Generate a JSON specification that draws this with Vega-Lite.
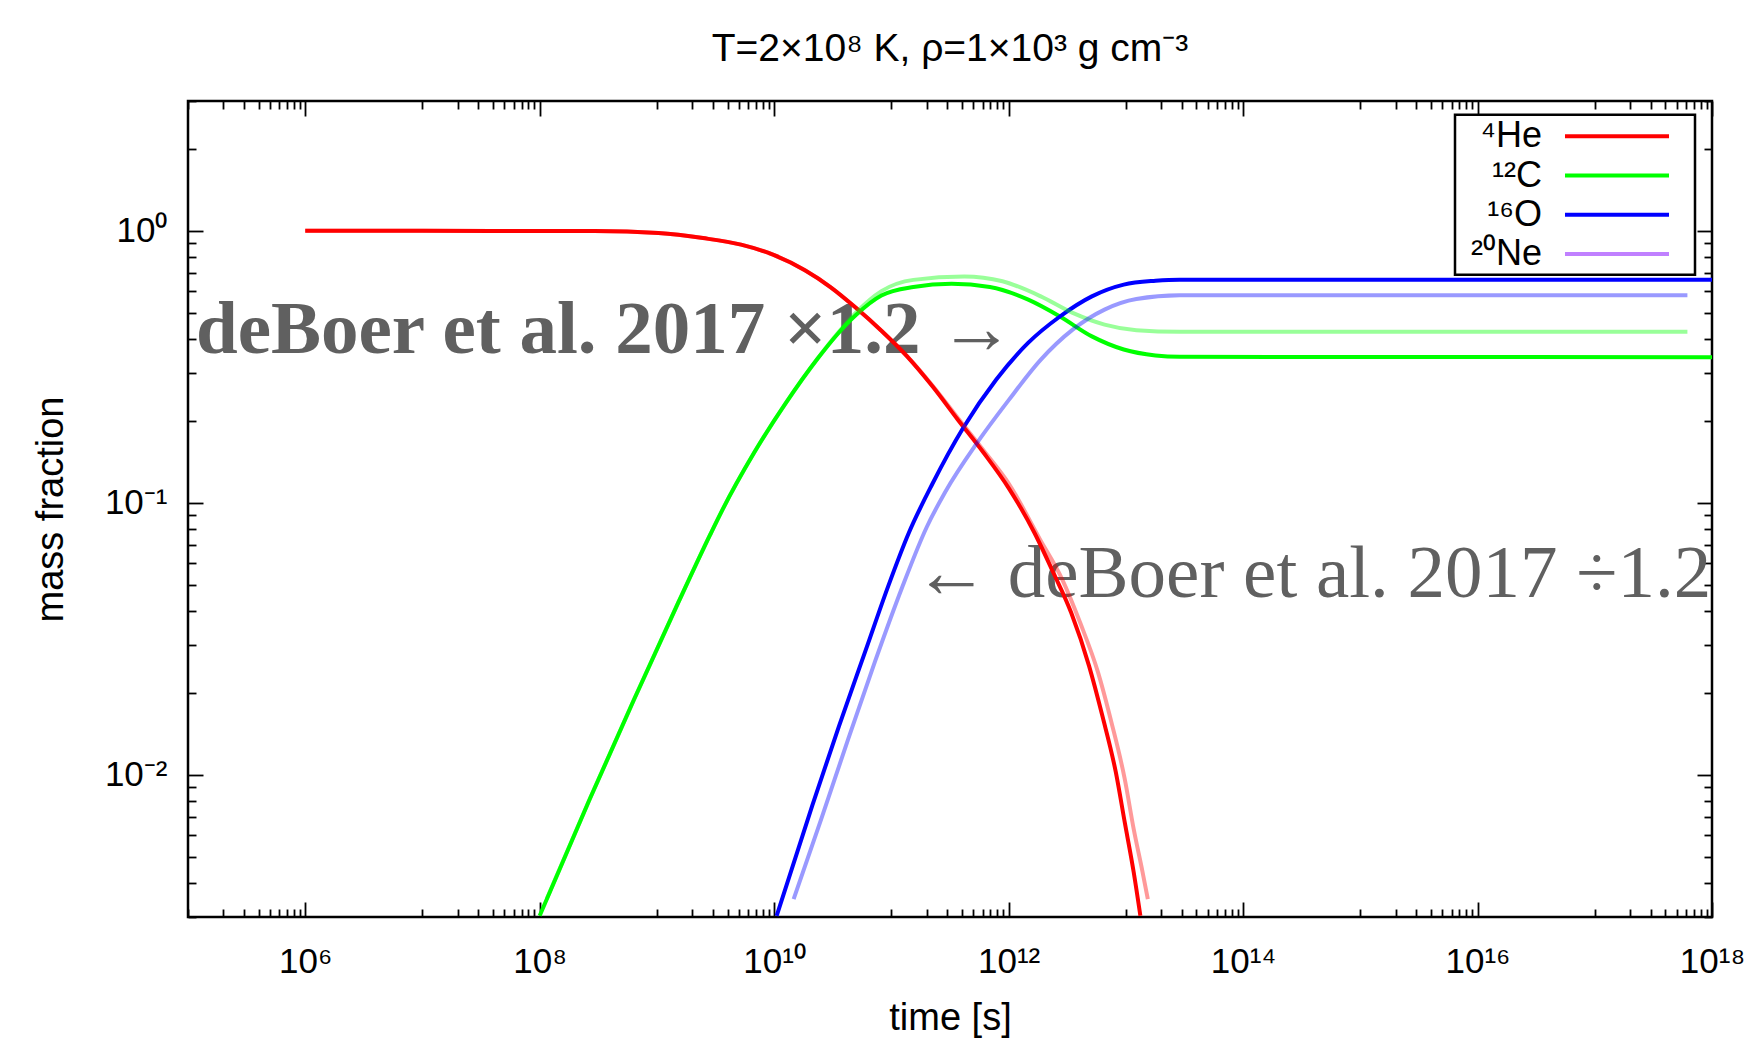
{
  "$schema": "https://vega.github.io/schema/vega-lite/v6.json",
  "width": 1524,
  "height": 816,
  "autosize": {"type": "none"},
  "padding": {"left": 188, "top": 101, "right": 45, "bottom": 125},
  "background": "white",
  "title": {"text": "T=2×10⁸ K, ρ=1×10³ g cm⁻³", "frame": "group", "anchor": "middle", "baseline": "alphabetic", "offset": 0, "font": "Liberation Sans", "fontSize": 39, "fontWeight": "normal", "color": "black"},
  "config": {
    "view": {"stroke": "black", "strokeWidth": 2.5},
    "axis": {"grid": false, "domain": false, "tickColor": "black", "tickWidth": 1.8, "labelFont": "Liberation Sans", "labelFontSize": 35, "labelColor": "black", "titleFont": "Liberation Sans", "titleFontSize": 38, "titleFontWeight": "normal", "titleColor": "black", "labelFlush": false, "labelOverlap": false, "labelBound": false, "zindex": 1},
    "legend": {"strokeColor": "black", "strokeWidth": 2.5, "fillColor": "white"}
  },
  "datasets": {
    "solid": [
      {"species": "⁴He", "t": 1e6, "X": 1.0},
      {"species": "⁴He", "t": 1e7, "X": 1.0},
      {"species": "⁴He", "t": 4.49e7, "X": 0.999},
      {"species": "⁴He", "t": 2.93e8, "X": 0.998},
      {"species": "⁴He", "t": 1.03e9, "X": 0.981},
      {"species": "⁴He", "t": 2.47e9, "X": 0.94},
      {"species": "⁴He", "t": 5.22e9, "X": 0.889},
      {"species": "⁴He", "t": 9.77e9, "X": 0.817},
      {"species": "⁴He", "t": 1.83e10, "X": 0.716},
      {"species": "⁴He", "t": 3.02e10, "X": 0.621},
      {"species": "⁴He", "t": 4.98e10, "X": 0.521},
      {"species": "⁴He", "t": 8.22e10, "X": 0.429},
      {"species": "⁴He", "t": 1.355e11, "X": 0.346},
      {"species": "⁴He", "t": 2.24e11, "X": 0.268},
      {"species": "⁴He", "t": 3.69e11, "X": 0.202},
      {"species": "⁴He", "t": 6.1e11, "X": 0.153},
      {"species": "⁴He", "t": 1.005e12, "X": 0.113},
      {"species": "⁴He", "t": 1.66e12, "X": 0.0776},
      {"species": "⁴He", "t": 2.41e12, "X": 0.0553},
      {"species": "⁴He", "t": 3.42e12, "X": 0.0394},
      {"species": "⁴He", "t": 4.86e12, "X": 0.0251},
      {"species": "⁴He", "t": 6.32e12, "X": 0.0164},
      {"species": "⁴He", "t": 8.22e12, "X": 0.0102},
      {"species": "⁴He", "t": 9.79e12, "X": 0.00668},
      {"species": "⁴He", "t": 1.167e13, "X": 0.00438},
      {"species": "⁴He", "t": 1.33e13, "X": 0.00303},
      {"species": "¹²C", "t": 1e8, "X": 0.00303},
      {"species": "¹²C", "t": 2.64e8, "X": 0.00804},
      {"species": "¹²C", "t": 6.35e8, "X": 0.01884},
      {"species": "¹²C", "t": 1.53e9, "X": 0.0432},
      {"species": "¹²C", "t": 2.84e9, "X": 0.0762},
      {"species": "¹²C", "t": 3.61e9, "X": 0.094},
      {"species": "¹²C", "t": 6.76e9, "X": 0.153},
      {"species": "¹²C", "t": 1.26e10, "X": 0.233},
      {"species": "¹²C", "t": 2.35e10, "X": 0.339},
      {"species": "¹²C", "t": 3.42e10, "X": 0.414},
      {"species": "¹²C", "t": 4.98e10, "X": 0.49},
      {"species": "¹²C", "t": 8.22e10, "X": 0.578},
      {"species": "¹²C", "t": 1.54e11, "X": 0.621},
      {"species": "¹²C", "t": 3.26e11, "X": 0.638},
      {"species": "¹²C", "t": 6.92e11, "X": 0.621},
      {"species": "¹²C", "t": 1.47e12, "X": 0.558},
      {"species": "¹²C", "t": 2.74e12, "X": 0.484},
      {"species": "¹²C", "t": 5.13e12, "X": 0.409},
      {"species": "¹²C", "t": 9.6e12, "X": 0.366},
      {"species": "¹²C", "t": 1.79e13, "X": 0.348},
      {"species": "¹²C", "t": 2.88e13, "X": 0.344},
      {"species": "¹²C", "t": 1e18, "X": 0.343},
      {"species": "¹⁶O", "t": 1.05e10, "X": 0.00303},
      {"species": "¹⁶O", "t": 2.11e10, "X": 0.00769},
      {"species": "¹⁶O", "t": 3.58e10, "X": 0.01514},
      {"species": "¹⁶O", "t": 6.07e10, "X": 0.0289},
      {"species": "¹⁶O", "t": 9.4e10, "X": 0.0494},
      {"species": "¹⁶O", "t": 1.41e11, "X": 0.0776},
      {"species": "¹⁶O", "t": 2.24e11, "X": 0.1175},
      {"species": "¹⁶O", "t": 4.08e11, "X": 0.188},
      {"species": "¹⁶O", "t": 7.85e11, "X": 0.284},
      {"species": "¹⁶O", "t": 1.466e12, "X": 0.387},
      {"species": "¹⁶O", "t": 2.74e12, "X": 0.484},
      {"species": "¹⁶O", "t": 5.13e12, "X": 0.574},
      {"species": "¹⁶O", "t": 9.59e12, "X": 0.634},
      {"species": "¹⁶O", "t": 1.795e13, "X": 0.655},
      {"species": "¹⁶O", "t": 2.88e13, "X": 0.661},
      {"species": "¹⁶O", "t": 1e18, "X": 0.661}
    ],
    "light": [
      {"species": "⁴He", "t": 1e6, "X": 1.0},
      {"species": "⁴He", "t": 1e7, "X": 1.0},
      {"species": "⁴He", "t": 4.49e7, "X": 0.999},
      {"species": "⁴He", "t": 2.93e8, "X": 0.998},
      {"species": "⁴He", "t": 1.03e9, "X": 0.981},
      {"species": "⁴He", "t": 2.47e9, "X": 0.94},
      {"species": "⁴He", "t": 5.22e9, "X": 0.889},
      {"species": "⁴He", "t": 9.77e9, "X": 0.817},
      {"species": "⁴He", "t": 1.83e10, "X": 0.716},
      {"species": "⁴He", "t": 3.02e10, "X": 0.621},
      {"species": "⁴He", "t": 4.98e10, "X": 0.521},
      {"species": "⁴He", "t": 8.22e10, "X": 0.429},
      {"species": "⁴He", "t": 1.355e11, "X": 0.347},
      {"species": "⁴He", "t": 2.24e11, "X": 0.27},
      {"species": "⁴He", "t": 3.69e11, "X": 0.205},
      {"species": "⁴He", "t": 6.1e11, "X": 0.156},
      {"species": "⁴He", "t": 1.005e12, "X": 0.1175},
      {"species": "⁴He", "t": 1.853e12, "X": 0.0733},
      {"species": "⁴He", "t": 2.87e12, "X": 0.0522},
      {"species": "⁴He", "t": 4.08e12, "X": 0.0362},
      {"species": "⁴He", "t": 5.79e12, "X": 0.0238},
      {"species": "⁴He", "t": 7.53e12, "X": 0.0156},
      {"species": "⁴He", "t": 9.79e12, "X": 0.00964},
      {"species": "⁴He", "t": 1.167e13, "X": 0.00631},
      {"species": "⁴He", "t": 1.39e13, "X": 0.00438},
      {"species": "⁴He", "t": 1.54e13, "X": 0.00349},
      {"species": "¹²C", "t": 1.15e8, "X": 0.0035},
      {"species": "¹²C", "t": 2.64e8, "X": 0.00804},
      {"species": "¹²C", "t": 6.35e8, "X": 0.01884},
      {"species": "¹²C", "t": 1.53e9, "X": 0.0432},
      {"species": "¹²C", "t": 2.84e9, "X": 0.0762},
      {"species": "¹²C", "t": 3.61e9, "X": 0.094},
      {"species": "¹²C", "t": 6.76e9, "X": 0.153},
      {"species": "¹²C", "t": 1.26e10, "X": 0.233},
      {"species": "¹²C", "t": 2.35e10, "X": 0.339},
      {"species": "¹²C", "t": 3.42e10, "X": 0.416},
      {"species": "¹²C", "t": 4.98e10, "X": 0.5},
      {"species": "¹²C", "t": 8.22e10, "X": 0.6},
      {"species": "¹²C", "t": 1.54e11, "X": 0.66},
      {"species": "¹²C", "t": 4.19e11, "X": 0.679},
      {"species": "¹²C", "t": 8.87e11, "X": 0.652},
      {"species": "¹²C", "t": 1.88e12, "X": 0.574},
      {"species": "¹²C", "t": 3.52e12, "X": 0.499},
      {"species": "¹²C", "t": 6.58e12, "X": 0.452},
      {"species": "¹²C", "t": 1.23e13, "X": 0.431},
      {"species": "¹²C", "t": 2.88e13, "X": 0.425},
      {"species": "¹²C", "t": 6.17e17, "X": 0.425},
      {"species": "¹⁶O", "t": 1.466e10, "X": 0.00349},
      {"species": "¹⁶O", "t": 2.52e10, "X": 0.00687},
      {"species": "¹⁶O", "t": 4.28e10, "X": 0.01352},
      {"species": "¹⁶O", "t": 7.23e10, "X": 0.026},
      {"species": "¹⁶O", "t": 1.225e11, "X": 0.0484},
      {"species": "¹⁶O", "t": 2.0e11, "X": 0.0813},
      {"species": "¹⁶O", "t": 2.88e11, "X": 0.1096},
      {"species": "¹⁶O", "t": 5.38e11, "X": 0.166},
      {"species": "¹⁶O", "t": 1.005e12, "X": 0.239},
      {"species": "¹⁶O", "t": 1.884e12, "X": 0.336},
      {"species": "¹⁶O", "t": 3.52e12, "X": 0.433},
      {"species": "¹⁶O", "t": 6.58e12, "X": 0.513},
      {"species": "¹⁶O", "t": 1.23e13, "X": 0.561},
      {"species": "¹⁶O", "t": 2.88e13, "X": 0.579},
      {"species": "¹⁶O", "t": 6.17e17, "X": 0.579}
    ]
  },
  "resolve": {"axis": {"x": "independent", "y": "independent"}, "scale": {"color": "independent"}},
  "layer": [
    {
      "data": {"values": [{"t": 117000, "X": 0.356, "note": "deBoer et al. 2017 ×1.2 →"}]},
      "mark": {"type": "text", "font": "Liberation Serif", "fontSize": 75, "fontWeight": "bold", "color": "#606060", "align": "left", "baseline": "alphabetic"},
      "encoding": {
        "x": {"field": "t", "type": "quantitative", "scale": {"type": "log", "domain": [1e5, 1e18]},
          "axis": {"orient": "bottom", "labels": false, "title": null, "tickSize": -8,
            "values": [1e5,2e5,3e5,4e5,5e5,6e5,7e5,8e5,9e5,1e7,2e7,3e7,4e7,5e7,6e7,7e7,8e7,9e7,1e9,2e9,3e9,4e9,5e9,6e9,7e9,8e9,9e9,1e11,2e11,3e11,4e11,5e11,6e11,7e11,8e11,9e11,1e13,2e13,3e13,4e13,5e13,6e13,7e13,8e13,9e13,1e15,2e15,3e15,4e15,5e15,6e15,7e15,8e15,9e15,1e17,2e17,3e17,4e17,5e17,6e17,7e17,8e17,9e17]}},
        "y": {"field": "X", "type": "quantitative", "scale": {"type": "log", "domain": [0.003, 3]},
          "axis": {"orient": "left", "labels": false, "title": null, "tickSize": -8,
            "values": [0.003,0.004,0.005,0.006,0.007,0.008,0.009,0.02,0.03,0.04,0.05,0.06,0.07,0.08,0.09,0.2,0.3,0.4,0.5,0.6,0.7,0.8,0.9,2,3]}},
        "text": {"field": "note"}
      }
    },
    {
      "data": {"values": [{"t": 1.56e11, "X": 0.0449, "note": "← deBoer et al. 2017 ÷1.2"}]},
      "mark": {"type": "text", "font": "Liberation Serif", "fontSize": 75, "fontWeight": "normal", "color": "#606060", "align": "left", "baseline": "alphabetic"},
      "encoding": {
        "x": {"field": "t", "type": "quantitative", "scale": {"type": "log", "domain": [1e5, 1e18]},
          "axis": {"orient": "top", "labels": false, "title": null, "tickSize": -8,
            "values": [1e5,2e5,3e5,4e5,5e5,6e5,7e5,8e5,9e5,1e7,2e7,3e7,4e7,5e7,6e7,7e7,8e7,9e7,1e9,2e9,3e9,4e9,5e9,6e9,7e9,8e9,9e9,1e11,2e11,3e11,4e11,5e11,6e11,7e11,8e11,9e11,1e13,2e13,3e13,4e13,5e13,6e13,7e13,8e13,9e13,1e15,2e15,3e15,4e15,5e15,6e15,7e15,8e15,9e15,1e17,2e17,3e17,4e17,5e17,6e17,7e17,8e17,9e17]}},
        "y": {"field": "X", "type": "quantitative", "scale": {"type": "log", "domain": [0.003, 3]},
          "axis": {"orient": "right", "labels": false, "title": null, "tickSize": -8,
            "values": [0.003,0.004,0.005,0.006,0.007,0.008,0.009,0.02,0.03,0.04,0.05,0.06,0.07,0.08,0.09,0.2,0.3,0.4,0.5,0.6,0.7,0.8,0.9,2,3]}},
        "text": {"field": "note"}
      }
    },
    {
      "data": {"name": "solid"},
      "mark": {"type": "line", "strokeWidth": 4, "clip": true, "interpolate": "monotone"},
      "encoding": {
        "x": {"field": "t", "type": "quantitative", "scale": {"type": "log", "domain": [1e5, 1e18]},
          "axis": {"orient": "bottom", "values": [1e6,1e8,1e10,1e12,1e14,1e16,1e18], "tickSize": -15, "labelPadding": 70, "labelBaseline": "alphabetic",
            "labelExpr": "'10' + (round(log(datum.value)/LN10) == 6 ? '⁶' : round(log(datum.value)/LN10) == 8 ? '⁸' : round(log(datum.value)/LN10) == 10 ? '¹⁰' : round(log(datum.value)/LN10) == 12 ? '¹²' : round(log(datum.value)/LN10) == 14 ? '¹⁴' : round(log(datum.value)/LN10) == 16 ? '¹⁶' : '¹⁸')",
            "title": "time [s]", "titleY": 112, "titleBaseline": "alphabetic"}},
        "y": {"field": "X", "type": "quantitative", "scale": {"type": "log", "domain": [0.003, 3]},
          "axis": {"orient": "left", "values": [1, 0.1, 0.01], "tickSize": -15, "labelPadding": 36, "labelBaseline": "middle",
            "labelExpr": "datum.value >= 0.5 ? '10⁰' : datum.value >= 0.05 ? '10⁻¹' : '10⁻²'",
            "title": "mass fraction", "titleAngle": 270, "titleX": -126, "titleBaseline": "alphabetic"}},
        "color": {"field": "species", "type": "nominal",
          "scale": {"domain": ["⁴He", "¹²C", "¹⁶O", "²⁰Ne"], "range": ["#ff0000", "#00ff00", "#0000ff", "#c080ff"]},
          "legend": {"title": null, "orient": "none", "legendX": 1267, "legendY": 13.7, "symbolType": "M-3,0H3M3.9,0", "symbolSize": 1202, "symbolStrokeWidth": 4, "symbolOpacity": 1,
            "labelFont": "Liberation Sans", "labelFontSize": 36, "labelColor": "black", "labelAlign": "right", "labelOffset": -94.5, "symbolOffset": 140.5,
            "rowPadding": 1.3, "padding": 2, "labelLimit": 0}}
      }
    },
    {
      "data": {"name": "light"},
      "mark": {"type": "line", "strokeWidth": 4, "opacity": 0.4, "clip": true, "interpolate": "monotone"},
      "encoding": {
        "x": {"field": "t", "type": "quantitative", "scale": {"type": "log", "domain": [1e5, 1e18]},
          "axis": {"orient": "top", "values": [1e6,1e8,1e10,1e12,1e14,1e16,1e18], "tickSize": -15, "labels": false, "title": null}},
        "y": {"field": "X", "type": "quantitative", "scale": {"type": "log", "domain": [0.003, 3]},
          "axis": {"orient": "right", "values": [1, 0.1, 0.01], "tickSize": -15, "labels": false, "title": null}},
        "color": {"field": "species", "type": "nominal",
          "scale": {"domain": ["⁴He", "¹²C", "¹⁶O", "²⁰Ne"], "range": ["#ff0000", "#00ff00", "#0000ff", "#c080ff"]},
          "legend": null}
      }
    }
  ]
}
